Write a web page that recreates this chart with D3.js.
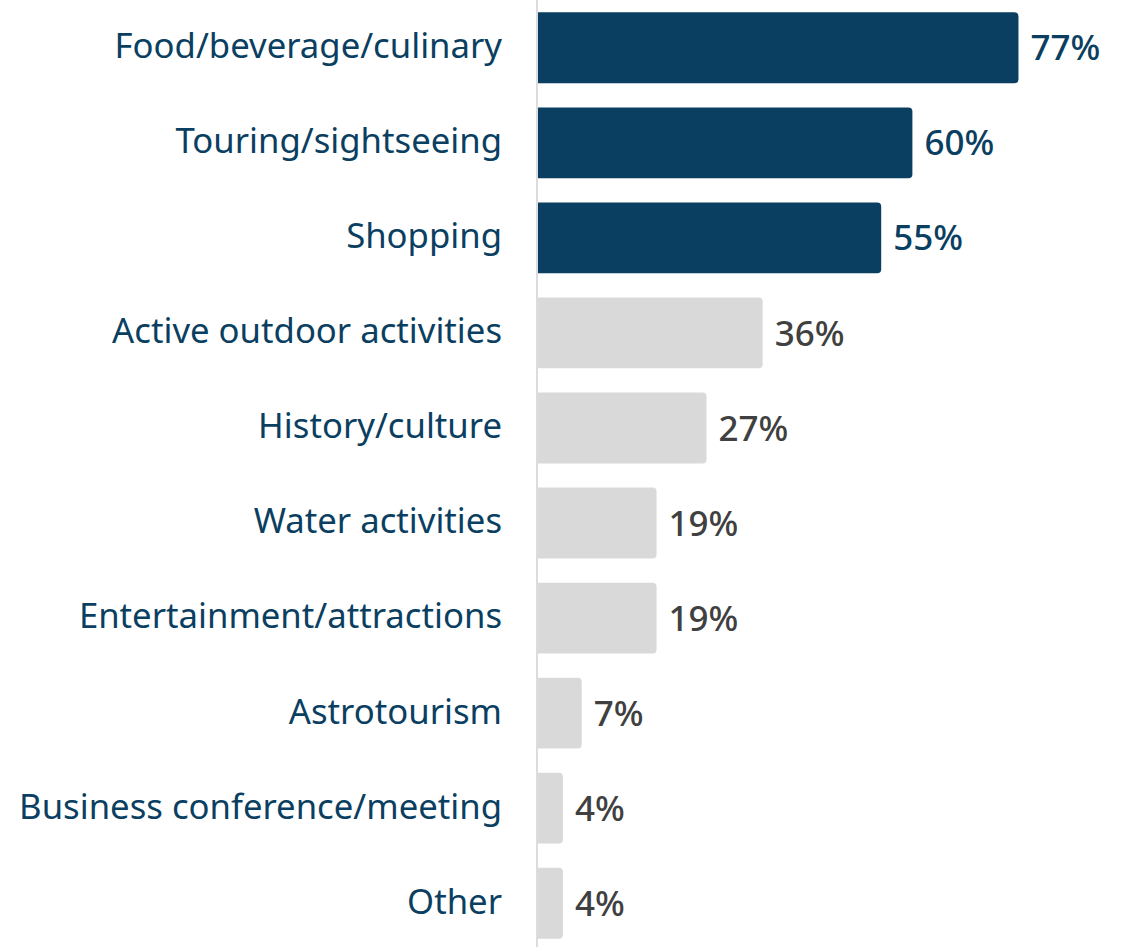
<!DOCTYPE html>
<html>
<head>
<meta charset="utf-8">
<script src="https://cdn.jsdelivr.net/npm/d3@7"></script>
<style>
  html, body { margin: 0; padding: 0; background: #fff; }
  svg text { font-family: "Noto Sans", sans-serif; }
</style>
</head>
<body>
<div id="chart"></div>
<script>
"use strict"

// categories and values
const categories = [
    "Food/beverage/culinary",
    "Touring/sightseeing",
    "Shopping",
    "Active outdoor activities",
    "History/culture",
    "Water activities",
    "Entertainment/attractions",
    "Astrotourism",
    "Business conference/meeting",
    "Other"
];
const values = [77, 60, 55, 36, 27, 19, 19, 7, 4, 4];
const highlighted = [true, true, true, false, false, false, false, false, false, false];

const data = categories.map((c, i) => ({ cat: c, value: values[i], hi: highlighted[i] }));

var width = 1122,
    height = 947,
    axisX = 538;

var svg = d3.select("#chart")
    .append("svg")
    .attr("width", width)
    .attr("height", height);

var x = d3.scaleLinear()
    .domain([0, 100])
    .range([axisX, axisX + 624]);

var y = d3.scaleBand()
    .domain(categories)
    .range([0, 951])
    .paddingInner(0.255)
    .paddingOuter(0.13);

// bar with rounded right corners only
function barPath(x0, x1, y0, h, r) {
    r = Math.min(r, (x1 - x0) / 2);
    return "M" + x0 + "," + y0 +
        "H" + (x1 - r) +
        "Q" + x1 + "," + y0 + " " + x1 + "," + (y0 + r) +
        "V" + (y0 + h - r) +
        "Q" + x1 + "," + (y0 + h) + " " + (x1 - r) + "," + (y0 + h) +
        "H" + x0 + "Z";
}

svg.append("g")
    .selectAll("path")
    .data(data)
    .enter()
    .append("path")
    .attr("fill", d => d.hi ? "#0b3f61" : "#d9d9d9")
    .attr("d", d => barPath(x(0), x(d.value), y(d.cat), y.bandwidth(), 4));

// axis line
svg.append("line")
    .attr("x1", axisX - 1).attr("x2", axisX - 1)
    .attr("y1", 0).attr("y2", height)
    .attr("stroke", "#dcdcdc")
    .attr("stroke-width", 2);

// category labels
svg.append("g")
    .selectAll("text")
    .data(data)
    .enter()
    .append("text")
    .attr("x", 502)
    .attr("y", d => y(d.cat) + y.bandwidth() / 2)
    .attr("dy", "0.3em")
    .attr("text-anchor", "end")
    .attr("fill", "#0b3f61")
    .style("font-size", "34.7px")
    .text(d => d.cat);

// value labels
svg.append("g")
    .selectAll("text")
    .data(data)
    .enter()
    .append("text")
    .attr("x", d => x(d.value) + 12)
    .attr("y", d => y(d.cat) + y.bandwidth() / 2)
    .attr("dy", "0.36em")
    .attr("fill", d => d.hi ? "#0b3f61" : "#404040")
    .style("font-size", "35px")
    .style("font-weight", 500)
    .text(d => d.value + "%");
</script>
</body>
</html>
